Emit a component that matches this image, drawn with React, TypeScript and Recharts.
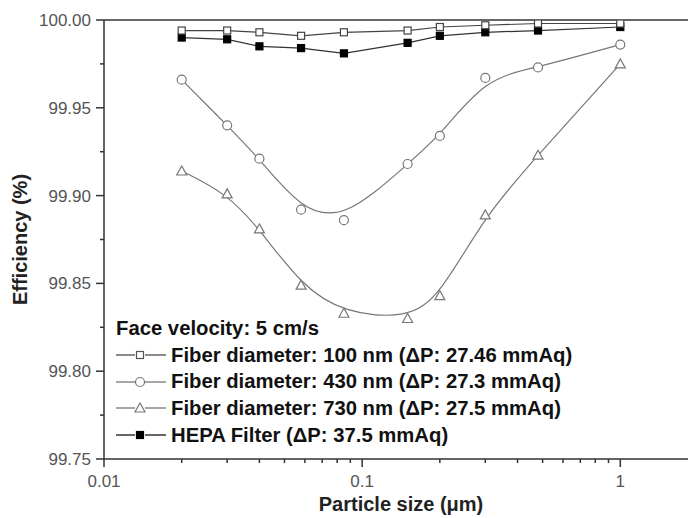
import { LineChart, Line, XAxis, YAxis, ReferenceLine } from "recharts";

const sizes = [0.02, 0.03, 0.04, 0.058, 0.085, 0.15, 0.2, 0.3, 0.48, 1.0];
const fiber100 = [99.994, 99.994, 99.993, 99.991, 99.993, 99.994, 99.996, 99.997, 99.998, 99.998];
const fiber430 = [99.966, 99.94, 99.921, 99.892, 99.886, 99.918, 99.934, 99.967, 99.973, 99.986];
const fiber730 = [99.914, 99.901, 99.881, 99.849, 99.833, 99.83, 99.843, 99.889, 99.923, 99.975];
const hepa = [99.99, 99.989, 99.985, 99.984, 99.981, 99.987, 99.991, 99.993, 99.994, 99.996];

const yTicks = [99.75, 99.775, 99.8, 99.825, 99.85, 99.875, 99.9, 99.925, 99.95, 99.975, 100];
const yMajor = [99.75, 99.8, 99.85, 99.9, 99.95, 100];
const xTicks = [0.01, 0.02, 0.03, 0.04, 0.05, 0.06, 0.07, 0.08, 0.09, 0.1, 0.2, 0.3, 0.4, 0.5, 0.6, 0.7, 0.8, 0.9, 1, 2];
const xMajor = [0.01, 0.1, 1];

const legendTitle = "Face velocity: 5 cm/s";
const seriesNames = [
  "Fiber diameter: 100 nm (\u0394P: 27.46 mmAq)",
  "Fiber diameter: 430 nm (\u0394P: 27.3 mmAq)",
  "Fiber diameter: 730 nm (\u0394P: 27.5 mmAq)",
  "HEPA Filter (\u0394P: 37.5 mmAq)",
];

const data = sizes.map((x, i) => ({
  x,
  f100: fiber100[i],
  f430: fiber430[i],
  f730: fiber730[i],
  hepa: hepa[i],
}));

const FONT = "'Liberation Sans', Arial, sans-serif";
const AXIS = "#333";
const TICK_SIZE = 8;
const TICK_MARGIN = 4;

type Shape = "square" | "circle" | "triangle" | "filled";

function Marker({ cx, cy, shape, color }: { cx: number; cy: number; shape: Shape; color: string }) {
  if (cx == null || cy == null) return null;
  if (shape === "square" || shape === "filled")
    return (
      <rect x={cx - 3.5} y={cy - 3.5} width={7} height={7}
        fill={shape === "filled" ? "#000" : "#fff"} stroke={color} strokeWidth={1.2} />
    );
  if (shape === "circle")
    return <circle cx={cx} cy={cy} r={4.5} fill="#fff" stroke={color} strokeWidth={1.2} />;
  return (
    <polygon points={`${cx},${cy - 5} ${cx - 5},${cy + 4} ${cx + 5},${cy + 4}`}
      fill="#fff" stroke={color} strokeWidth={1.2} />
  );
}

const dotFor = (shape: Shape, color: string) => (p: any) =>
  <Marker key={`${shape}-${p.index}`} cx={p.cx} cy={p.cy} shape={shape} color={color} />;

function YTick(props: any) {
  const { x, y, payload } = props;
  const major = yMajor.some((v) => Math.abs(v - payload.value) < 1e-6);
  const axisX = x + TICK_SIZE + TICK_MARGIN;
  return (
    <g>
      <line x1={axisX - (major ? TICK_SIZE : 4)} x2={axisX} y1={y} y2={y} stroke={AXIS} strokeWidth={1.5} />
      {major && (
        <text x={x - 1} y={y} dy={6} textAnchor="end" fontSize={17} fill="#555" fontFamily={FONT}>
          {payload.value.toFixed(2)}
        </text>
      )}
    </g>
  );
}

function XTick(props: any) {
  const { x, y, payload } = props;
  const major = xMajor.some((v) => Math.abs(v - payload.value) < 1e-9);
  const axisY = y - TICK_SIZE - TICK_MARGIN;
  return (
    <g>
      <line x1={x} x2={x} y1={axisY} y2={axisY + (major ? TICK_SIZE : 4)} stroke={AXIS} strokeWidth={1.5} />
      {major && (
        <text x={x} y={y} dy={16} textAnchor="middle" fontSize={17} fill="#555" fontFamily={FONT}>
          {String(payload.value)}
        </text>
      )}
    </g>
  );
}

const legendRows: { shape: Shape; color: string; line: string }[] = [
  { shape: "square", color: "#555", line: "#666" },
  { shape: "circle", color: "#777", line: "#888" },
  { shape: "triangle", color: "#777", line: "#888" },
  { shape: "filled", color: "#000", line: "#333" },
];

function ChartLegend() {
  return (
    <div style={{ position: "absolute", left: 116, top: 315, fontFamily: FONT, fontWeight: "bold",
      fontSize: 20.3, color: "#111", lineHeight: "26.7px" }}>
      <div>{legendTitle}</div>
      {seriesNames.map((name, i) => (
        <div key={name} style={{ display: "flex", alignItems: "center", whiteSpace: "nowrap" }}>
          <svg width={54} height={14} style={{ marginRight: 1 }}>
            <line x1={0} x2={19} y1={7} y2={7} stroke={legendRows[i].line} strokeWidth={1.5} />
            <line x1={29} x2={50} y1={7} y2={7} stroke={legendRows[i].line} strokeWidth={1.5} />
            <Marker cx={24} cy={7} shape={legendRows[i].shape} color={legendRows[i].color} />
          </svg>
          <span>{name}</span>
        </div>
      ))}
    </div>
  );
}

export default function App() {
  return (
    <div style={{ position: "absolute", left: 0, top: 0, width: 688, height: 518, overflow: "hidden", background: "#fff" }}>
      <LineChart width={720} height={518} data={data} margin={{ top: 20, right: 22, bottom: 0, left: 0 }}>
        <XAxis dataKey="x" type="number" scale="log" domain={[0.01, 2]} ticks={xTicks} allowDataOverflow
          height={59} interval={0} tick={<XTick />} tickLine={false} tickSize={TICK_SIZE} tickMargin={TICK_MARGIN}
          axisLine={{ stroke: AXIS, strokeWidth: 1.5 }}
          label={{ value: "Particle size (\u03bcm)", position: "insideBottom", offset: 7, fontSize: 20,
            fontWeight: "bold", fill: "#222", fontFamily: FONT }} />
        <YAxis type="number" domain={[99.75, 100]} ticks={yTicks} allowDataOverflow width={104} interval={0}
          tick={<YTick />} tickLine={false} tickSize={TICK_SIZE} tickMargin={TICK_MARGIN}
          axisLine={{ stroke: AXIS, strokeWidth: 1.5 }}
          label={{ value: "Efficiency (%)", angle: -90, position: "insideLeft", offset: 20, fontSize: 20,
            fontWeight: "bold", fill: "#222", fontFamily: FONT, style: { textAnchor: "middle" } }} />
        <ReferenceLine y={100} stroke={AXIS} strokeWidth={1.5} />
        <Line dataKey="f430" type="basis" stroke="#777" strokeWidth={1.2} isAnimationActive={false}
          dot={dotFor("circle", "#777")} />
        <Line dataKey="f730" type="basis" stroke="#777" strokeWidth={1.2} isAnimationActive={false}
          dot={dotFor("triangle", "#777")} />
        <Line dataKey="hepa" type="linear" stroke="#333" strokeWidth={1.2} isAnimationActive={false}
          dot={dotFor("filled", "#000")} />
        <Line dataKey="f100" type="linear" stroke="#444" strokeWidth={1.2} isAnimationActive={false}
          dot={dotFor("square", "#444")} />
      </LineChart>
      <ChartLegend />
    </div>
  );
}
